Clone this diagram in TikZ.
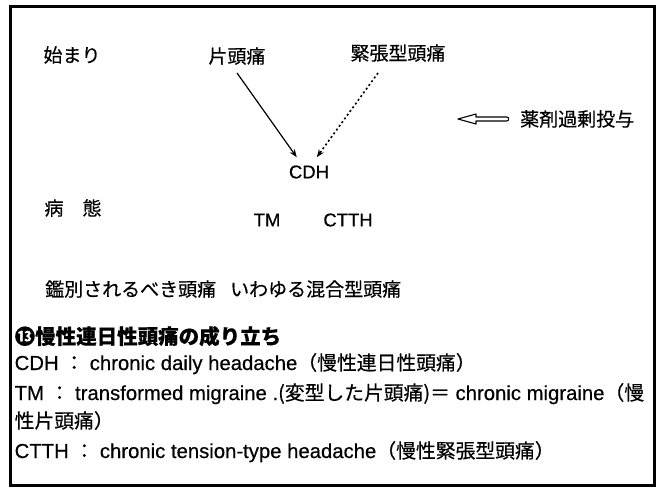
\documentclass[tikz,border=0pt]{standalone}
\usepackage{fontspec}
\setmainfont{Liberation Sans}[FakeBold=0.4]
\newfontfamily\jpfont{Noto Sans CJK JP}[FakeBold=0.4]
\usetikzlibrary{arrows.meta,calc}
\newcommand\JS[1]{{\fontsize{19.8}{22}\jpfont #1}}
\tikzset{
  jl/.style={font=\fontsize{19}{22}\jpfont, inner sep=0pt},
  lat/.style={font=\fontsize{18.5}{22}\selectfont, inner sep=0pt},
  body/.style={font=\fontsize{20.3}{23}\selectfont, inner sep=0pt, anchor=base west},
  conn/.style={line width=1.2pt, -{Stealth[length=8pt,width=6pt]}},
  dotconn/.style={line width=1.6pt, dash pattern=on 2pt off 2.6pt, -{Stealth[length=8pt,width=6pt]}},
}
\begin{document}
\begin{tikzpicture}[x=1pt,y=-1pt]
\path[use as bounding box] (0,0) rectangle (658,491);
\draw[line width=3pt] (10.5,6) rectangle (654.5,485);

\node[jl] (start) at (72,55) {始まり};
\node[jl] (mig) at (237,56) {片頭痛};
\node[jl] (tth) at (398,53) {緊張型頭痛};
\node[lat] (cdh) at (309,172) {CDH};
\node[jl] (patho) at (73,208) {病\hspace{19pt}態};
\node[lat] (tm) at (267,220) {TM};
\node[lat] (ctth) at (348,220) {CTTH};
\node[jl, anchor=west] (diff) at (45,289) {鑑別されるべき頭痛\hspace{14pt}いわゆる混合型頭痛};
\node[jl, anchor=west] (drug) at (520,119) {薬剤過剰投与};

\draw[conn] ($(mig.south)+(0,8)$) -- ($(cdh.north west)+(8,-8)$);
\draw[dotconn] ($(tth.south)+(-20,11)$) -- ($(cdh.north west)+(28,-8)$);

\draw[line width=1.1pt, line join=round]
  ($(drug.west)+(-62,0)$) -- ++(18,-5) -- ++(0,3) -- ++(31,0)
  to[out=0,in=0,looseness=1.4] ++(0,4) -- ++(-31,0) -- ++(0,3) -- cycle;

\node[jl, font=\fontsize{20.5}{24}\bfseries\jpfont, anchor=base west] (cap) at (14.5,344) {⓭慢性連日性頭痛の成り立ち};
\node[body] (l1) at (14.5,370) {CDH \JS{：} chronic daily headache\JS{（慢性連日性頭痛）}};
\node[body] (l2) at (14.5,400) {TM \JS{：} transformed migraine .\JS{(変型した片頭痛)＝} chronic migraine\JS{（慢}};
\node[body] (l3) at (14.5,428) {\JS{性片頭痛）}};
\node[body] (l4) at (14.5,458) {CTTH \JS{：} chronic tension-type headache\JS{（慢性緊張型頭痛）}};
\end{tikzpicture}
\end{document}
